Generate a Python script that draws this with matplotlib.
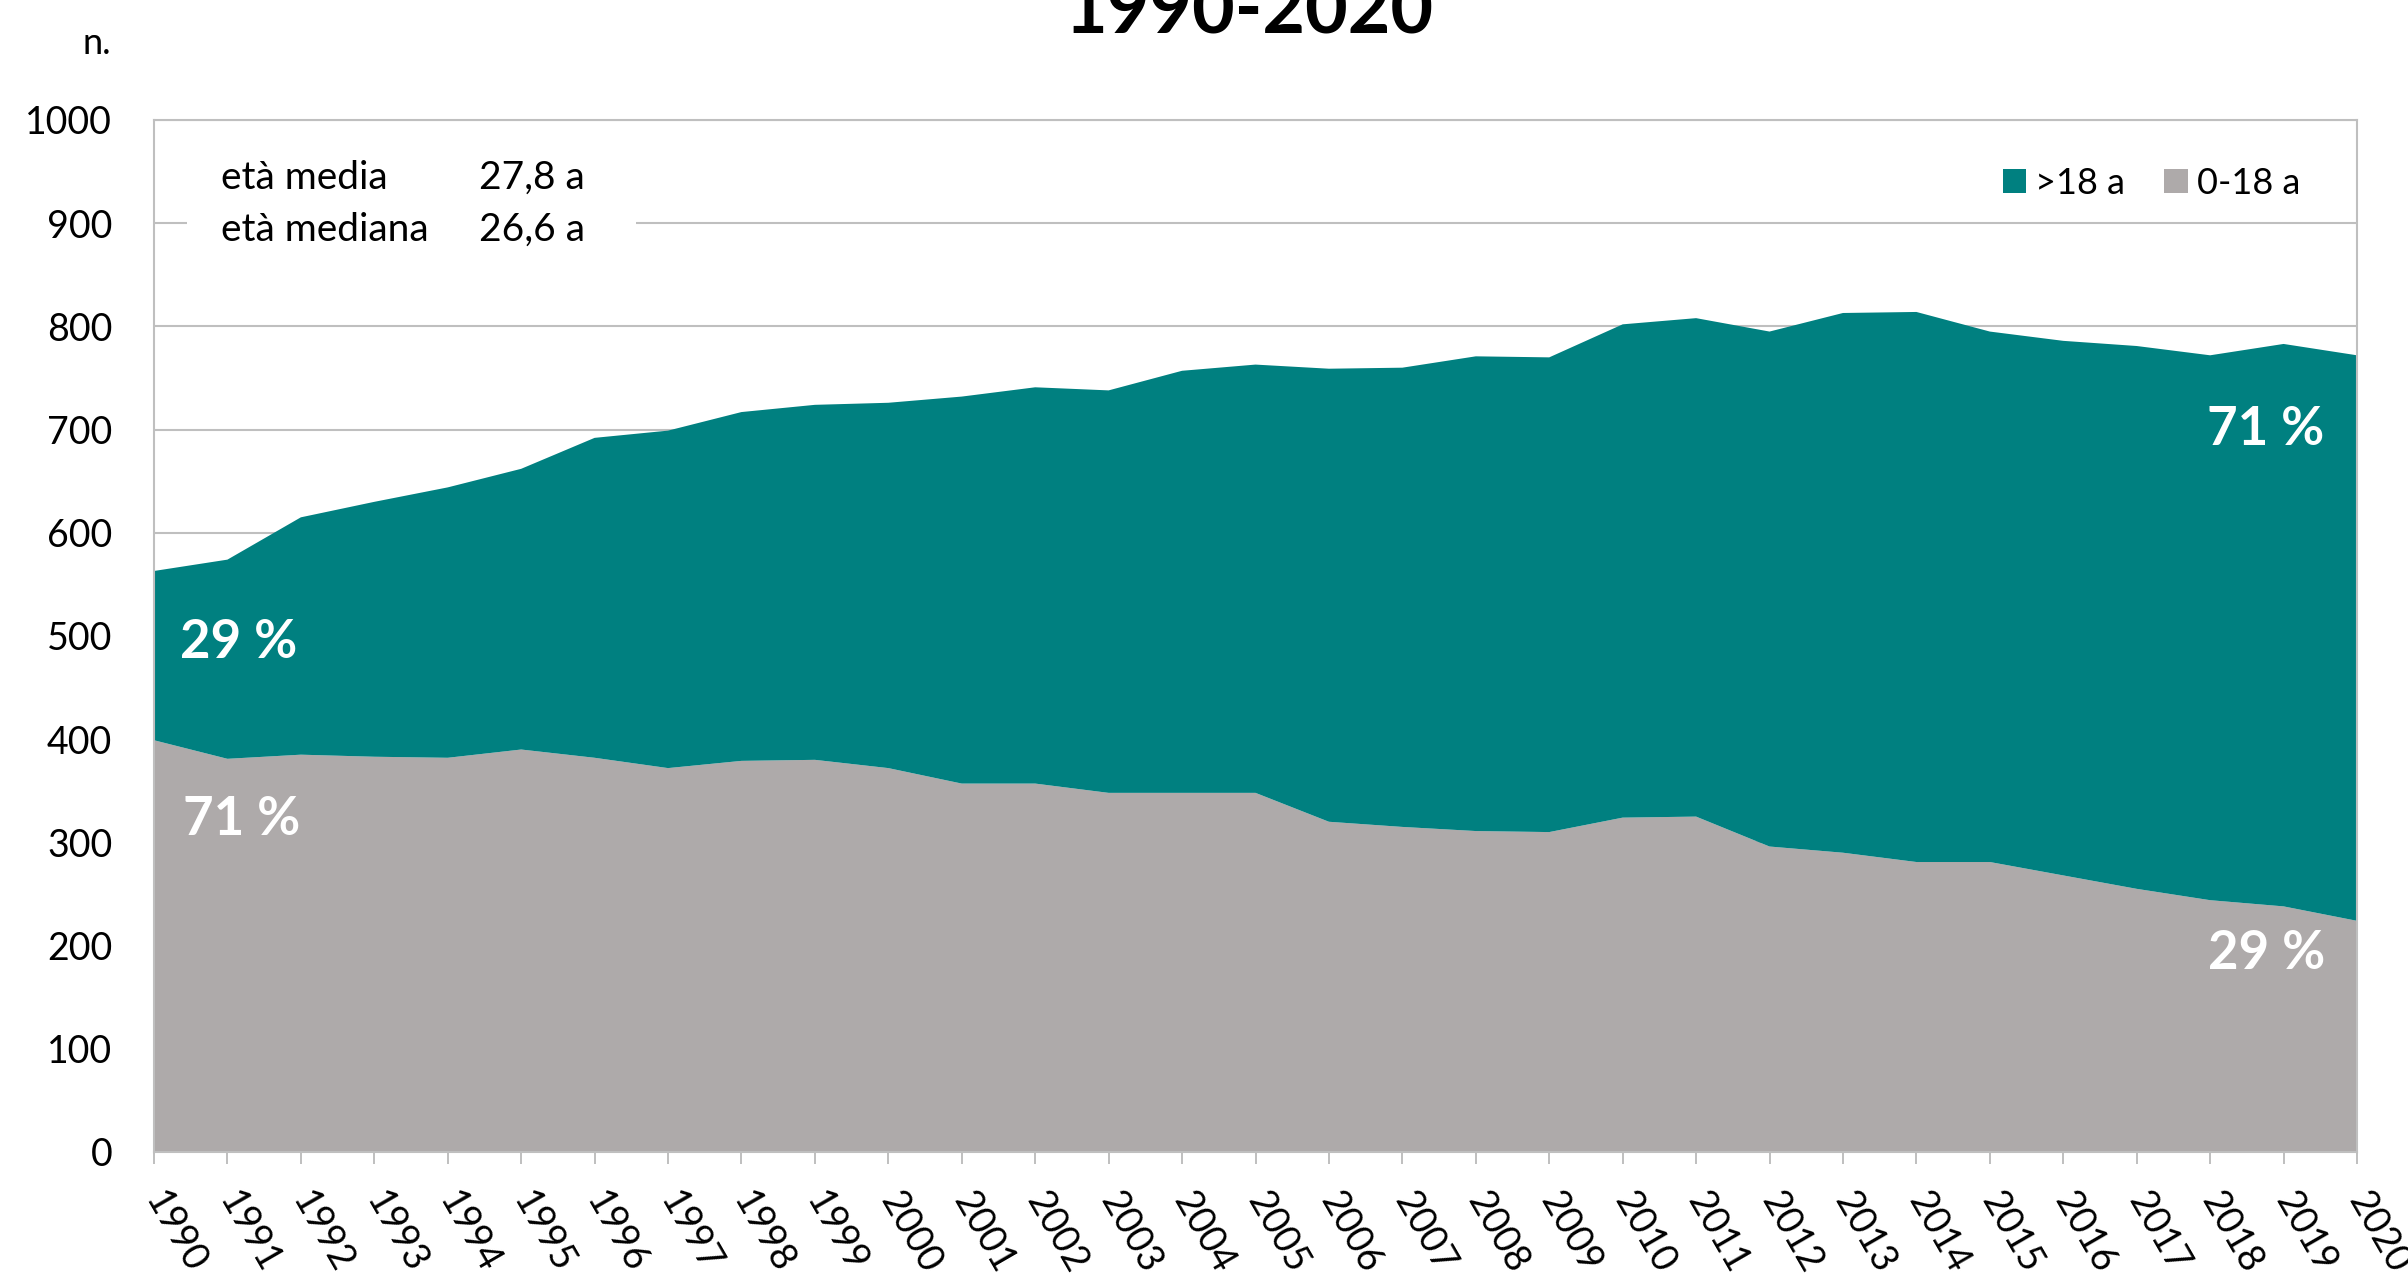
import numpy as np
import matplotlib.pyplot as plt
from matplotlib.patches import Patch, Rectangle

plt.rcParams['font.family'] = ['Lato', 'DejaVu Sans']

# ===== Data =====
years = list(range(1990, 2021))
young = [399, 381, 385, 383, 382, 390, 382, 372, 379, 380, 372, 357, 357, 348, 348, 348,
         320, 315, 311, 310, 324, 325, 296, 290, 281, 281, 268, 255, 244, 238, 224]
adult = [164, 193, 230, 247, 262, 272, 310, 327, 338, 344, 354, 375, 384, 390, 409, 415,
         439, 445, 460, 460, 478, 483, 499, 523, 533, 514, 518, 526, 528, 545, 548]
series_labels = ['>18 a', '0-18 a']
pct_labels = ['29 %', '71 %', '71 %', '29 %']
yticks = [0, 100, 200, 300, 400, 500, 600, 700, 800, 900, 1000]

TEAL = '#008080'
GREY = '#AEAAAA'
GRID = '#BFBFBF'

# ===== Figure =====
W, H = 2408, 1279
fig = plt.figure(figsize=(W / 100, H / 100), dpi=100)
ax = fig.add_axes([154 / W, 1 - 1152 / H, (2357 - 154) / W, (1152 - 120) / H])

ax.stackplot(years, young, adult, colors=[GREY, TEAL], linewidth=0, zorder=2)

ax.set_xlim(years[0], years[-1])
ax.set_ylim(0, 1000)
ax.set_yticks(yticks)
ax.set_xticks(years)
ax.yaxis.grid(True, color=GRID, linewidth=1.5, zorder=0)
ax.set_axisbelow(True)
for s in ax.spines.values():
    s.set_color(GRID)
    s.set_linewidth(1.5)

ax.tick_params(axis='y', length=0, pad=30, labelsize=27)
ax.tick_params(axis='x', length=8.6, width=1.4, color=GRID, pad=22, labelsize=27)
plt.setp(ax.get_xticklabels(), rotation=-60, ha='left', va='center', rotation_mode='anchor')

# white box behind the age note (pixel positions, top-left origin)
ax.add_patch(Rectangle((0.015, 0.862), 0.204, 0.133, transform=ax.transAxes,
                       facecolor='white', edgecolor='none', zorder=1.5))
note = [('età media', '27,8 a', 189), ('età mediana', '26,6 a', 241)]
for name, val, ypx in note:
    fig.text(221 / W, 1 - ypx / H, name, fontsize=28, va='baseline')
    fig.text(479 / W, 1 - ypx / H, val, fontsize=28, va='baseline')

# percent labels
pct_pos = [(1991.15, 494), (1991.2, 322), (2018.76, 700), (2018.77, 192)]
for (x, y), t in zip(pct_pos, pct_labels):
    ax.text(x, y, t, color='white', fontsize=38, fontweight='bold', ha='center', va='center', zorder=3)

# legend
handles = [Patch(facecolor=TEAL), Patch(facecolor=GREY)]
ax.legend(handles, series_labels, loc='center right', bbox_to_anchor=(2300 / W, 1 - 183 / H),
          bbox_transform=fig.transFigure, ncol=2, frameon=False, fontsize=26,
          handlelength=0.64, handleheight=0.64, handletextpad=0.25, columnspacing=1.1,
          borderpad=0, borderaxespad=0)

# title (partly cut off at the top, as in the source) and unit
fig.text(1249 / W, 1 - 34 / H, '1990-2020', ha='center', va='baseline', fontsize=53, fontweight='bold')
fig.text(97 / W, 1 - 43 / H, 'n.', ha='center', va='center', fontsize=26)

fig.savefig('out.png', dpi=100)
